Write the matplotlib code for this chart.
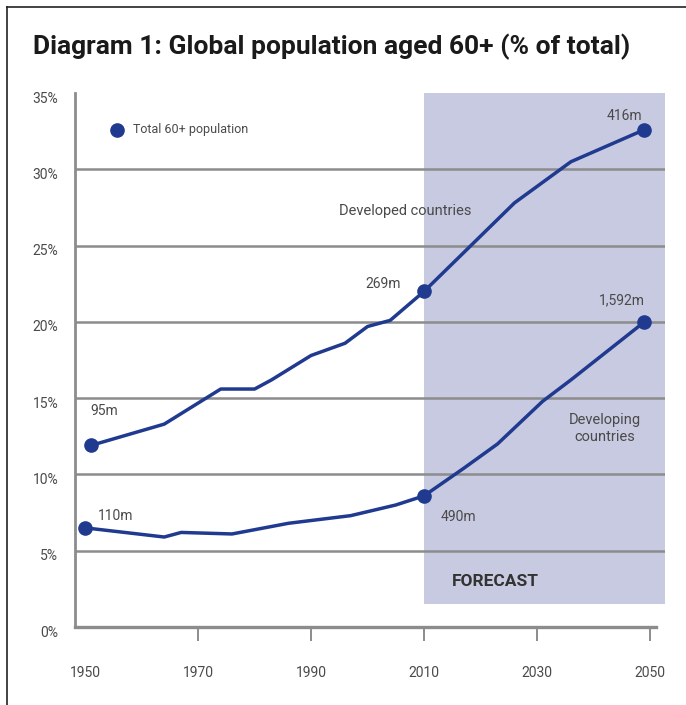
import numpy as np
import matplotlib.pyplot as plt
import matplotlib.transforms as mtransforms

# share of total population aged 60+ (%)
dev_years = [1951, 1964, 1974, 1980, 1983, 1990, 1996, 2000, 2004, 2010, 2026, 2036, 2049]
dev_share = [11.9, 13.3, 15.6, 15.6, 16.2, 17.8, 18.6, 19.7, 20.1, 22.0, 27.8, 30.5, 32.6]

dvg_years = [1950, 1964, 1967, 1976, 1986, 1997, 2005, 2010, 2017, 2023, 2031, 2036, 2049]
dvg_share = [6.5, 5.9, 6.2, 6.1, 6.8, 7.3, 8.0, 8.6, 10.4, 12.0, 14.8, 16.2, 20.0]

# marked points and their total 60+ population
dev_marks = [1951, 2010, 2049]
dev_mark_share = [11.9, 22.0, 32.6]
dev_labels = ['95m', '269m', '416m']
dvg_marks = [1950, 2010, 2049]
dvg_mark_share = [6.5, 8.6, 20.0]
dvg_labels = ['110m', '490m', '1,592m']

x_ticks = [1950, 1970, 1990, 2010, 2030, 2050]
y_ticks = [0, 5, 10, 15, 20, 25, 30, 35]
forecast_start = 2010

BLUE = '#1f3a8f'
GREY = '#8c8c8c'
TXT = '#4a4a4a'

plt.rcParams['font.family'] = ['Roboto', 'DejaVu Sans']

fig = plt.figure(figsize=(6.86, 7.05), dpi=100)
ax = fig.add_axes([0.1093, 0.1106, 0.8601, 0.7574])
ax.set_xlim(1948.2, 2052.65)
ax.set_ylim(0, 35)

# forecast shading
ax.axvspan(forecast_start, 2052.65, ymin=1.5/35, ymax=1, color='#c8cae1', lw=0, zorder=0)

# grid lines
for y in y_ticks[1:-1]:
    ax.axhline(y, color=GREY, lw=1.8, zorder=1)

ax.plot(dev_years, dev_share, color=BLUE, lw=2.5, zorder=3, solid_capstyle='round')
ax.plot(dvg_years, dvg_share, color=BLUE, lw=2.5, zorder=3, solid_capstyle='round')
ax.plot(dev_marks, dev_mark_share, 'o', color=BLUE, ms=9.5, zorder=4)
ax.plot(dvg_marks, dvg_mark_share, 'o', color=BLUE, ms=9.5, zorder=4)

# spines and ticks
for s in ['top', 'right']:
    ax.spines[s].set_visible(False)
ax.spines['left'].set_color(GREY)
ax.spines['left'].set_linewidth(2.0)
ax.spines['bottom'].set_color(GREY)
ax.spines['bottom'].set_linewidth(2.4)
ax.spines['bottom'].set_bounds(1948.2, 2051)

ax.set_xticks(x_ticks)
ax.set_xticklabels([str(x) for x in x_ticks])
ax.set_yticks(y_ticks)
ax.set_yticklabels([f'{y}%' for y in y_ticks])
ax.tick_params(axis='x', direction='out', length=10, width=1.4, color=GREY,
               pad=18, labelsize=10, labelcolor=TXT)
ax.tick_params(axis='y', length=0, pad=12, labelsize=10, labelcolor=TXT)
ax.xaxis.get_major_ticks()[0].tick1line.set_visible(False)
# y labels sit a little below their grid lines
shift = mtransforms.ScaledTranslation(0, -4/100, fig.dpi_scale_trans)
for lab in ax.get_yticklabels():
    lab.set_transform(lab.get_transform() + shift)

# annotations
ax.text(dev_marks[0], dev_mark_share[0] + 2.0, dev_labels[0], fontsize=10, color=TXT, ha='left')
ax.text(2002.7, 22.5, dev_labels[1], fontsize=10, color=TXT, ha='center', va='center')
ax.text(2045.4, 33.5, dev_labels[2], fontsize=10, color=TXT, ha='center', va='center')
ax.text(1952.3, 7.3, dvg_labels[0], fontsize=10, color=TXT, ha='left', va='center')
ax.text(2016.0, 7.2, dvg_labels[1], fontsize=10, color=TXT, ha='center', va='center')
ax.text(2045.0, 21.4, dvg_labels[2], fontsize=10, color=TXT, ha='center', va='center')

ax.text(2006.6, 27.3, 'Developed countries', fontsize=10.5, color=TXT, ha='center', va='center')
ax.text(2042.0, 13.0, 'Developing\ncountries', fontsize=10.5, color=TXT, ha='center',
        va='center', linespacing=1.3)
ax.text(2022.6, 3.0, 'FORECAST', fontsize=12.5, color='#333333', ha='center', va='center',
        fontweight='bold')

ax.plot([1955.7], [32.6], 'o', color=BLUE, ms=9.5, zorder=4)
ax.text(1958.5, 32.6, 'Total 60+ population', fontsize=9, color=TXT, ha='left', va='center')

fig.text(0.048, 0.933, 'Diagram 1: Global population aged 60+ (% of total)',
         fontsize=19, fontweight='bold', color='#1a1a1a', ha='left', va='center')

# frame lines at top and left of the figure
fig.add_artist(plt.Line2D([7/686, 1], [1 - 7/705, 1 - 7/705], color='#222222', lw=1.2))
fig.add_artist(plt.Line2D([7/686, 7/686], [0, 1 - 7/705], color='#222222', lw=1.2))

fig.savefig('out.png', dpi=100)
